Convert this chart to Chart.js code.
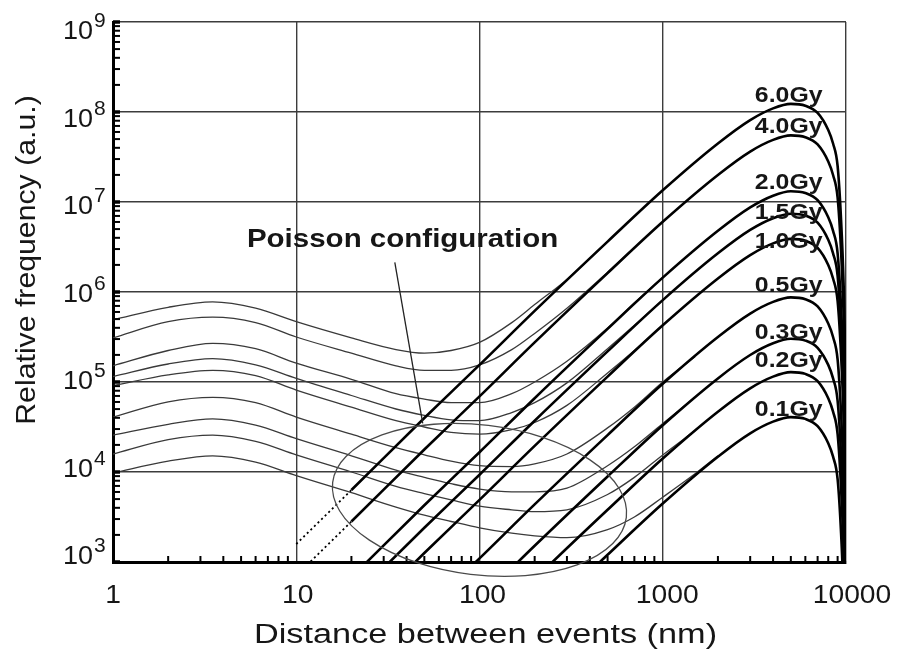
<!DOCTYPE html>
<html>
<head>
<meta charset="utf-8">
<script src="https://cdn.jsdelivr.net/npm/chart.js@4.4.1/dist/chart.umd.min.js"></script>
<style>
  html, body { margin: 0; padding: 0; background: #fff; }
  #wrap { width: 897px; height: 654px; }
</style>
</head>
<body>
<div id="wrap"><canvas id="myChart"></canvas></div>
<script>
// dose of each curve, top to bottom
var doses = ['6.0Gy', '4.0Gy', '2.0Gy', '1.5Gy', '1.0Gy', '0.5Gy', '0.3Gy', '0.2Gy', '0.1Gy'];

// decade ticks
var xTicks = [1, 10, 100, 1000, 10000];
var yTicks = [1e3, 1e4, 1e5, 1e6, 1e7, 1e8, 1e9];

var xTrack = [1, 2, 3.5, 6, 10, 20, 35, 50, 70, 100, 150, 200, 300, 500, 700, 1000, 1500, 2000];
var track60 = [5.69, 5.83, 5.89, 5.82, 5.67, 5.49, 5.36, 5.32, 5.35, 5.44, 5.66, 5.86, 6.14, 6.56];
var track40 = [5.49, 5.67, 5.72, 5.66, 5.50, 5.32, 5.18, 5.13, 5.13, 5.19, 5.36, 5.54, 5.82, 6.22, 6.49];
var track20 = [5.18, 5.35, 5.43, 5.37, 5.21, 5.03, 4.87, 4.81, 4.77, 4.77, 4.87, 5.00, 5.23, 5.60, 5.88, 6.16];
var track15 = [5.06, 5.20, 5.26, 5.19, 5.04, 4.85, 4.70, 4.63, 4.58, 4.57, 4.66, 4.77, 4.99, 5.37, 5.63, 5.91];
var track10 = [4.96, 5.08, 5.13, 5.07, 4.91, 4.72, 4.57, 4.50, 4.44, 4.42, 4.47, 4.55, 4.74, 5.10, 5.35, 5.63];
var track05 = [4.61, 4.78, 4.83, 4.77, 4.61, 4.42, 4.27, 4.19, 4.12, 4.07, 4.06, 4.09, 4.20, 4.49, 4.72, 5.00, 5.28];
var track03 = [4.41, 4.53, 4.59, 4.52, 4.37, 4.18, 4.02, 3.94, 3.87, 3.81, 3.78, 3.78, 3.82, 4.07, 4.28, 4.54, 4.83];
var track02 = [4.20, 4.36, 4.41, 4.34, 4.19, 4.00, 3.84, 3.76, 3.69, 3.62, 3.58, 3.56, 3.58, 3.75, 3.94, 4.19, 4.46];
var track01 = [3.99, 4.12, 4.18, 4.11, 3.96, 3.77, 3.61, 3.52, 3.45, 3.38, 3.32, 3.29, 3.27, 3.36, 3.50, 3.72, 3.98, 4.18];

// thick Poisson curves: distance (nm) and log10(frequency)
var xPoisson = [10, 20, 50, 100, 200, 500, 1000, 2000, 3000, 4000, 5000, 6000, 7000, 8000, 8500, 9000, 9400, 9700, 9850, 9950, 9990, 9999];
var pois60 = [3.20, 3.80, 4.60, 5.19, 5.79, 6.56, 7.13, 7.65, 7.91, 8.04, 8.09, 8.07, 7.99, 7.80, 7.65, 7.40, 6.80, 6.10, 5.50, 4.70, 4.00, 2.70];
var pois40 = [2.85, 3.45, 4.25, 4.84, 5.44, 6.21, 6.78, 7.30, 7.56, 7.69, 7.74, 7.72, 7.64, 7.45, 7.30, 7.05, 6.45, 5.75, 5.15, 4.35, 3.65, 2.35];
var pois20 = [2.23, 2.83, 3.63, 4.22, 4.82, 5.59, 6.16, 6.68, 6.94, 7.07, 7.12, 7.10, 7.02, 6.83, 6.68, 6.43, 5.83, 5.13, 4.53, 3.73, 3.03, 1.73];
var pois15 = [1.98, 2.58, 3.38, 3.97, 4.57, 5.34, 5.91, 6.43, 6.69, 6.82, 6.87, 6.85, 6.77, 6.58, 6.43, 6.18, 5.58, 4.88, 4.28, 3.48, 2.78, 1.48];
var pois10 = [1.70, 2.30, 3.10, 3.69, 4.29, 5.06, 5.63, 6.15, 6.41, 6.54, 6.59, 6.57, 6.49, 6.30, 6.15, 5.90, 5.30, 4.60, 4.00, 3.20, 2.50, 1.20];
var pois05 = [1.05, 1.65, 2.45, 3.04, 3.64, 4.41, 4.98, 5.50, 5.76, 5.89, 5.94, 5.92, 5.84, 5.65, 5.50, 5.25, 4.65, 3.95, 3.35, 2.55, 1.85, 0.55];
var pois03 = [0.59, 1.19, 1.99, 2.58, 3.18, 3.95, 4.52, 5.04, 5.30, 5.43, 5.48, 5.46, 5.38, 5.19, 5.04, 4.79, 4.19, 3.49, 2.89, 2.09, 1.39, 0.09];
var pois02 = [0.22, 0.82, 1.62, 2.21, 2.81, 3.58, 4.15, 4.67, 4.93, 5.06, 5.11, 5.09, 5.01, 4.82, 4.67, 4.42, 3.82, 3.12, 2.52, 1.72, 1.02, -0.28];
var pois01 = [-0.28, 0.32, 1.12, 1.71, 2.31, 3.08, 3.65, 4.17, 4.43, 4.56, 4.61, 4.59, 4.51, 4.32, 4.17, 3.92, 3.32, 2.62, 2.02, 1.22, 0.52, -0.78];

// the two highest Poisson lines are dotted below this distance (nm)
var dottedBelow = 20;

// dose label anchors: x (nm) of left edge, log10 of baseline
var labelX = 3180;
var labelY = [8.11, 7.77, 7.14, 6.81, 6.49, 6.00, 5.48, 5.17, 4.62];

var trackSeries = [track60, track40, track20, track15, track10, track05, track03, track02, track01];
var poisSeries = [pois60, pois40, pois20, pois15, pois10, pois05, pois03, pois02, pois01];

var FONT = "'Liberation Sans', Arial, sans-serif";
var INK = '#161616';

function toPoints(xs, logs) {
    var pts = [];
    for (var i = 0; i < logs.length; i++) {
        pts.push({ x: xs[i], y: Math.pow(10, logs[i]) });
    }
    return pts;
}

var datasets = [];
// thick lines first so they sit on top
poisSeries.forEach(function (s, i) {
    var ds = {
        label: doses[i] + ' Poisson',
        data: toPoints(xPoisson, s),
        borderColor: '#000',
        borderWidth: 2.6,
        pointRadius: 0,
        cubicInterpolationMode: 'monotone'
    };
    if (i < 2) {
        ds.segment = {
            borderDash: function (ctx) { return ctx.p1.parsed.x <= dottedBelow ? [2, 3] : undefined; },
            borderWidth: function (ctx) { return ctx.p1.parsed.x <= dottedBelow ? 1.8 : undefined; }
        };
    }
    datasets.push(ds);
});
trackSeries.forEach(function (s, i) {
    datasets.push({
        label: doses[i],
        data: toPoints(xTrack, s),
        borderColor: '#3a3a3a',
        borderWidth: 1.3,
        pointRadius: 0,
        cubicInterpolationMode: 'monotone'
    });
});

function stretchText(ctx, text, x, y, font, sx, align) {
    ctx.save();
    ctx.font = font;
    ctx.fillStyle = INK;
    ctx.textAlign = align || 'left';
    ctx.textBaseline = 'alphabetic';
    ctx.translate(x, y);
    ctx.scale(sx, 1);
    ctx.fillText(text, 0, 0);
    ctx.restore();
}

var overlay = {
    id: 'overlay',
    afterDraw: function (chart) {
        var ctx = chart.ctx, xs = chart.scales.x, ys = chart.scales.y, area = chart.chartArea;

        // inward ticks
        ctx.save();
        ctx.strokeStyle = '#000';
        for (var k = 3; k < 9; k++) {
            for (var m = 2; m < 10; m++) {
                var py = ys.getPixelForValue(m * Math.pow(10, k));
                ctx.lineWidth = 2;
                ctx.beginPath(); ctx.moveTo(area.left, py); ctx.lineTo(area.left + 7, py); ctx.stroke();
            }
        }
        yTicks.forEach(function (v) {
            var py = ys.getPixelForValue(v);
            ctx.lineWidth = 3.5;
            ctx.beginPath(); ctx.moveTo(area.left, py); ctx.lineTo(area.left + 7, py); ctx.stroke();
        });
        for (var k2 = 0; k2 < 4; k2++) {
            for (var m2 = 2; m2 < 10; m2++) {
                var px = xs.getPixelForValue(m2 * Math.pow(10, k2));
                ctx.lineWidth = 2;
                ctx.beginPath(); ctx.moveTo(px, area.bottom); ctx.lineTo(px, area.bottom - 6); ctx.stroke();
            }
        }
        ctx.restore();

        // ellipse around the Poisson region
        var decX = xs.getPixelForValue(10) - xs.getPixelForValue(1);
        var decY = ys.getPixelForValue(1e3) - ys.getPixelForValue(1e4);
        ctx.save();
        ctx.strokeStyle = '#4a4a4a';
        ctx.lineWidth = 1.3;
        ctx.beginPath();
        ctx.ellipse(xs.getPixelForValue(100), ys.getPixelForValue(Math.pow(10, 3.69)),
            0.807 * decX, 0.833 * decY, 6.8 * Math.PI / 180, 0, 2 * Math.PI);
        ctx.stroke();
        // leader line
        ctx.strokeStyle = '#222';
        ctx.beginPath();
        ctx.moveTo(xs.getPixelForValue(34.5), ys.getPixelForValue(Math.pow(10, 6.33)));
        ctx.lineTo(xs.getPixelForValue(49), ys.getPixelForValue(Math.pow(10, 4.54)));
        ctx.stroke();
        ctx.restore();

        stretchText(ctx, 'Poisson configuration', xs.getPixelForValue(5.38), ys.getPixelForValue(Math.pow(10, 6.5)),
            'bold 25px ' + FONT, 1.18, 'left');

        // dose labels
        doses.forEach(function (d, i) {
            stretchText(ctx, d, xs.getPixelForValue(labelX), ys.getPixelForValue(Math.pow(10, labelY[i])),
                'bold 22px ' + FONT, 1.13, 'left');
        });

        // y tick labels 10^n
        yTicks.forEach(function (v, i) {
            var n = Math.round(Math.log10(v));
            var base = ys.getPixelForValue(v) + 17 - (9 - n) * 2.5;
            stretchText(ctx, '10', area.left - 20, base, '25px ' + FONT, 1.08, 'right');
            stretchText(ctx, String(n), area.left - 19, base - 12, '20px ' + FONT, 1.05, 'left');
        });

        // x tick labels
        xTicks.forEach(function (v, i) {
            stretchText(ctx, String(v), xs.getPixelForValue(v) + 1.5 * i, area.bottom + 41, '25px ' + FONT, 1.13, 'center');
        });

        // axis titles
        stretchText(ctx, 'Distance between events (nm)', (area.left + area.right) / 2 + 6, area.bottom + 81,
            '27px ' + FONT, 1.27, 'center');
        ctx.save();
        ctx.font = '28px ' + FONT;
        ctx.fillStyle = INK;
        ctx.textAlign = 'center';
        ctx.textBaseline = 'alphabetic';
        ctx.translate(area.left - 78, (area.top + area.bottom) / 2 - 32);
        ctx.rotate(-Math.PI / 2);
        ctx.scale(1.08, 1);
        ctx.fillText('Relative frequency (a.u.)', 0, 0);
        ctx.restore();
    }
};

var ctx = document.getElementById('myChart').getContext('2d');
var myChart = new Chart(ctx, {
    type: 'line',
    data: { datasets: datasets },
    options: {
        responsive: true,
        maintainAspectRatio: false,
        animation: false,
        layout: { padding: { top: 22, right: 51, left: 0, bottom: 0 } },
        plugins: { legend: { display: false }, tooltip: { enabled: false } },
        scales: {
            x: {
                type: 'logarithmic',
                min: 1,
                max: 10000,
                afterBuildTicks: function (axis) { axis.ticks = xTicks.map(function (v) { return { value: v }; }); },
                afterFit: function (axis) { axis.height = 92; },
                ticks: { display: false },
                grid: { color: '#3c3c3c', lineWidth: 1.4, drawTicks: false },
                border: { display: true, color: '#000', width: 3 }
            },
            y: {
                type: 'logarithmic',
                min: 1e3,
                max: 1e9,
                afterBuildTicks: function (axis) { axis.ticks = yTicks.map(function (v) { return { value: v }; }); },
                afterFit: function (axis) { axis.width = 113; },
                ticks: { display: false },
                grid: { color: '#3c3c3c', lineWidth: 1.4, drawTicks: false },
                border: { display: true, color: '#000', width: 3 }
            }
        }
    },
    plugins: [overlay]
});
</script>
</body>
</html>
